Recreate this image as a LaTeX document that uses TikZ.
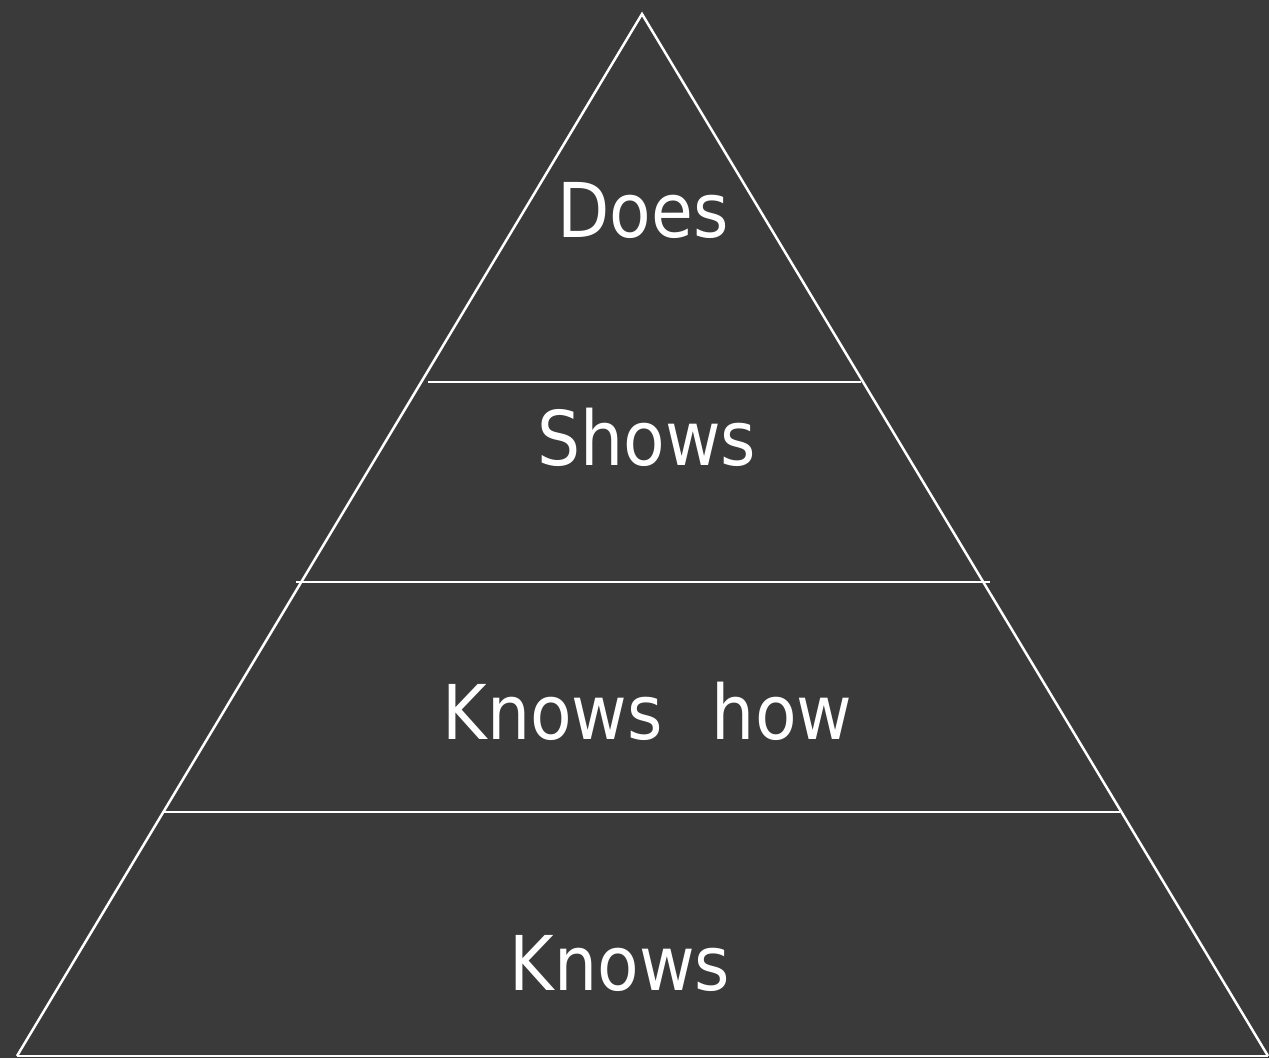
\documentclass[tikz,border=0pt]{standalone}
\usepackage{fontspec}
\setmainfont{DejaVu Sans Condensed}
\usepackage{tikz}
\definecolor{slate}{RGB}{58,58,58}
\tikzset{level/.style={text=white,anchor=base,font=\fontsize{43}{50}\selectfont},
	rim/.style={white,line width=1.4pt}}

\begin{document}
\begin{tikzpicture}[scale=1]
			\fill[slate] (0,0) rectangle (25.38,21.16);
			\useasboundingbox (0,0) rectangle (25.38,21.16);
			\coordinate (T) at (12.84,20.88);
			\coordinate (BL) at (0.34,0.04);
			\coordinate (BR) at (25.36,0.04);
			\draw[rim] (BL) -- (T) -- (BR);
			\draw[rim] (BL) -- (BR);
			% layer boundaries
			\coordinate (L1) at (8.56,13.52);
			\coordinate (R1) at (17.22,13.52);
			\coordinate (L2) at (5.92,9.52);
			\coordinate (R2) at (19.80,9.52);
			\coordinate (L3) at (3.26,4.92);
			\coordinate (R3) at (22.40,4.92);
			\draw[rim] (L1) -- (R1) (L2) -- (R2) (L3) -- (R3);
			\node[level] (does) at (12.86,16.40) {Does};
			\node[level] (shows) at (12.94,11.84) {Shows};
			\node[level] (knowshow) at (12.95,6.36) {Knows\hspace{0.55cm} how};
			\node[level] (knows) at (12.40,1.36) {Knows};
		\end{tikzpicture}
\end{document}
